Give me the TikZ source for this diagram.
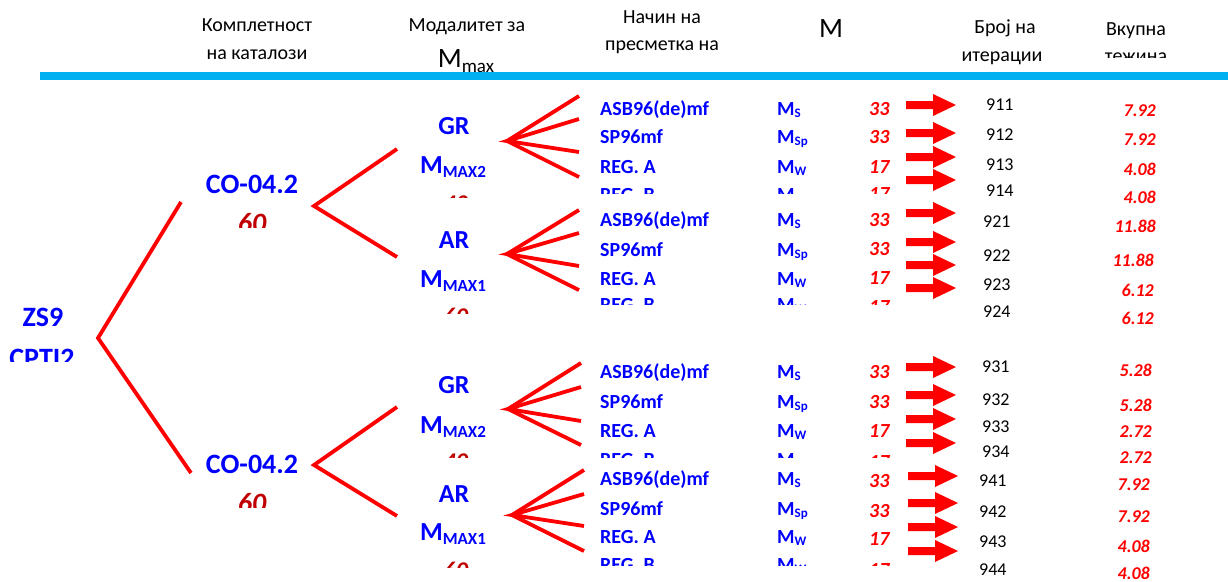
\documentclass[tikz,border=0pt]{standalone}
\usepackage{fontspec}
\setmainfont{Carlito}
\definecolor{skyb}{HTML}{00B0F0}
\definecolor{dred}{HTML}{C00000}
\definecolor{pblue}{HTML}{0000FF}
\definecolor{pred}{HTML}{FF0000}
\newcommand{\cutbelow}[2]{\begin{scope}\clip (0,0) rectangle (1228,#1);#2\end{scope}}
\newcommand{\msb}[1]{M\raisebox{-2.5pt}{\fontsize{13}{14}\selectfont #1}}
\newcommand{\mmax}[1]{M\raisebox{-4pt}{\fontsize{17}{18}\selectfont #1}}
\begin{document}
\begin{tikzpicture}[x=1pt,y=-1pt,
 every node/.style={inner sep=0pt, anchor=base},
 hdr/.style={font=\fontsize{20}{22}\selectfont},
 lbl/.style={font=\fontsize{20}{22}\selectfont\bfseries, text=pblue, anchor=base west},
 wnum/.style={font=\fontsize{20}{22}\selectfont\bfseries\itshape, text=pred, anchor=base west},
 inum/.style={font=\fontsize{18}{20}\selectfont, anchor=base west},
 tw/.style={font=\fontsize{18}{20}\selectfont\bfseries\itshape, text=pred, anchor=base east},
 big/.style={font=\fontsize{28}{30}\selectfont\bfseries, text=pblue},
 mid/.style={font=\fontsize{26}{28}\selectfont\bfseries, text=pblue},
 dnum/.style={font=\fontsize{28}{30}\selectfont\bfseries\itshape, text=dred},
 snum/.style={font=\fontsize{24}{26}\selectfont\bfseries\itshape, text=dred},
 branch/.style={pred, line width=3.8pt},
 blockarr/.pic={\fill[pred] (0,-4) -- (27,-4) -- (27,-11) -- (50,0) -- (27,11) -- (27,4) -- (0,4) -- cycle;}
]
\useasboundingbox (0,0) rectangle (1228,581);

% ---------- header ----------
\node[hdr] (h1a) at (257,31) {Комплетност};
\node[hdr] (h1b) at (257,59) {на каталози};
\node[hdr] (h2a) at (467,31) {Модалитет за};
\node[hdr, font=\fontsize{28}{30}\selectfont] (h2b) at (466,67) {M\raisebox{-5pt}{\fontsize{19}{20}\selectfont max}};
\node[hdr] (h3a) at (662,23) {Начин на};
\node[hdr] (h3b) at (662,50) {пресметка на};
\node[hdr, font=\fontsize{28}{30}\selectfont] (h4) at (831,37) {M};
\node[hdr] (h5a) at (1005,33) {Број на};
\node[hdr] (h5b) at (1002,61) {итерации};
\node[hdr] (h6a) at (1136,35) {Вкупна};
\cutbelow{57}{\node[hdr] (h6b) at (1136,62) {тежина};}
\coordinate (bl1) at (40,76);
\coordinate (bl2) at (1228,76);
\draw[skyb, line width=7.5pt] (bl1) -- (bl2);

% ---------- root and catalogues ----------
\node[big] (zs) at (43,326) {ZS9};
\cutbelow{361}{\node[big] (cp) at (42,367) {CPTI2};}
\node[big] (co1) at (252,193) {CO-04.2};
\cutbelow{227}{\node[dnum] (w1) at (252,232) {60};}
\node[big] (co2) at (252,473) {CO-04.2};
\cutbelow{507}{\node[dnum] (w2) at (252,512) {60};}

\coordinate (v0) at (98,338);
\coordinate (e01) at (181,202);
\coordinate (e02) at (191,473);
\draw[branch] (e01) -- (v0) -- (e02);

\coordinate (va) at (314,206);
\coordinate (ea1) at (397,149);
\coordinate (ea2) at (397,257);
\draw[branch] (ea1) -- (va) -- (ea2);
\coordinate (vb) at (314,465);
\coordinate (eb1) at (397,407);
\coordinate (eb2) at (397,516);
\draw[branch] (eb1) -- (vb) -- (eb2);

% ---------- Mmax modality ----------
\node[mid] (gr1) at (454,134) {GR};
\node[mid] (mx1) at (453,173) {\mmax{MAX2}};
\cutbelow{197}{\node[snum] (p1) at (456,211) {40};}
\node[mid] (ar1) at (454,248) {AR};
\node[mid] (mx2) at (453,287) {\mmax{MAX1}};
\cutbelow{313}{\node[snum] (p2) at (456,324) {60};}
\node[mid] (gr2) at (454,393) {GR};
\node[mid] (mx3) at (453,433) {\mmax{MAX2}};
\cutbelow{457}{\node[snum] (p3) at (456,469) {40};}
\node[mid] (ar2) at (454,502) {AR};
\node[mid] (mx4) at (453,540) {\mmax{MAX1}};
\cutbelow{567}{\node[snum] (p4) at (456,578) {60};}

% ---------- fans ----------
\coordinate (f1) at (507,141);
\coordinate (f11) at (579,96);  \coordinate (f12) at (579,119);
\coordinate (f13) at (579,152); \coordinate (f14) at (579,177);
\draw[branch] (f11) -- (f1) -- (f14);
\draw[branch] (f12) -- (f1) -- (f13);
\coordinate (f2) at (507,254);
\coordinate (f21) at (579,210); \coordinate (f22) at (579,233);
\coordinate (f23) at (579,266); \coordinate (f24) at (579,290);
\draw[branch] (f21) -- (f2) -- (f24);
\draw[branch] (f22) -- (f2) -- (f23);
\coordinate (f3) at (508,409);
\coordinate (f31) at (581,363); \coordinate (f32) at (581,387);
\coordinate (f33) at (581,421); \coordinate (f34) at (581,445);
\draw[branch] (f31) -- (f3) -- (f34);
\draw[branch] (f32) -- (f3) -- (f33);
\coordinate (f4) at (512,515);
\coordinate (f41) at (584,470); \coordinate (f42) at (584,494);
\coordinate (f43) at (584,526); \coordinate (f44) at (584,551);
\draw[branch] (f41) -- (f4) -- (f44);
\draw[branch] (f42) -- (f4) -- (f43);

% ---------- group 1 ----------
\node[lbl] (l11) at (600,115) {ASB96(de)mf};
\node[lbl] (l12) at (600,143) {SP96mf};
\node[lbl] (l13) at (600,173) {REG. A};
\node[lbl] (m11) at (777,115) {\msb{S}};
\node[lbl] (m12) at (777,143) {\msb{Sp}};
\node[lbl] (m13) at (777,173) {\msb{W}};
\node[wnum] (r11) at (869,115) {33};
\node[wnum] (r12) at (869,143) {33};
\node[wnum] (r13) at (869,173) {17};
\cutbelow{193}{
 \node[lbl] (l14) at (600,201) {REG. B};
 \node[lbl] (m14) at (777,201) {\msb{W}};
 \node[wnum] (r14) at (869,200) {17};}
\pic at (906,105) {blockarr};
\pic at (906,133) {blockarr};
\pic at (906,157) {blockarr};
\pic at (906,180) {blockarr};
\node[inum] (i11) at (986,110.7) {911};
\node[inum] (i12) at (986,140) {912};
\node[inum] (i13) at (986,170) {913};
\node[inum] (i14) at (986,196.7) {914};
\node[tw] (t11) at (1156,116.7) {7.92};
\node[tw] (t12) at (1156,145.7) {7.92};
\node[tw] (t13) at (1156,175.7) {4.08};
\node[tw] (t14) at (1156,203) {4.08};

% ---------- group 2 ----------
\node[lbl] (l21) at (600,226) {ASB96(de)mf};
\node[lbl] (l22) at (600,256) {SP96mf};
\node[lbl] (l23) at (600,285) {REG. A};
\node[lbl] (m21) at (777,226) {\msb{S}};
\node[lbl] (m22) at (777,256) {\msb{Sp}};
\node[lbl] (m23) at (777,285) {\msb{W}};
\node[wnum] (r21) at (869,226) {33};
\node[wnum] (r22) at (869,255) {33};
\node[wnum] (r23) at (869,284) {17};
\cutbelow{304}{
 \node[lbl] (l24) at (600,311) {REG. B};
 \node[lbl] (m24) at (777,311) {\msb{W}};
 \node[wnum] (r24) at (869,313) {17};}
\pic at (906,213) {blockarr};
\pic at (906,242) {blockarr};
\pic at (906,265) {blockarr};
\pic at (906,288) {blockarr};
\node[inum] (i21) at (983,227) {921};
\node[inum] (i22) at (983,261) {922};
\node[inum] (i23) at (983,290) {923};
\node[inum] (i24) at (983,317) {924};
\node[tw] (t21) at (1156,232.7) {11.88};
\node[tw] (t22) at (1154,266.7) {11.88};
\node[tw] (t23) at (1154,296.7) {6.12};
\node[tw] (t24) at (1154,324) {6.12};

% ---------- group 3 ----------
\node[lbl] (l31) at (600,378) {ASB96(de)mf};
\node[lbl] (l32) at (600,408) {SP96mf};
\node[lbl] (l33) at (600,437) {REG. A};
\node[lbl] (m31) at (777,378) {\msb{S}};
\node[lbl] (m32) at (777,408) {\msb{Sp}};
\node[lbl] (m33) at (777,437) {\msb{W}};
\node[wnum] (r31) at (869,378) {33};
\node[wnum] (r32) at (869,408) {33};
\node[wnum] (r33) at (869,437) {17};
\cutbelow{457}{
 \node[lbl] (l34) at (600,466) {REG. B};
 \node[lbl] (m34) at (777,466) {\msb{W}};
 \node[wnum] (r34) at (869,468) {17};}
\pic at (906,367) {blockarr};
\pic at (906,395) {blockarr};
\pic at (906,419) {blockarr};
\pic at (906,443) {blockarr};
\node[inum] (i31) at (982,372) {931};
\node[inum] (i32) at (982,405) {932};
\node[inum] (i33) at (982,432) {933};
\node[inum] (i34) at (982,457) {934};
\node[tw] (t31) at (1152,376.7) {5.28};
\node[tw] (t32) at (1152,411) {5.28};
\node[tw] (t33) at (1152,437.7) {2.72};
\node[tw] (t34) at (1152,463) {2.72};

% ---------- group 4 ----------
\node[lbl] (l41) at (600,485) {ASB96(de)mf};
\node[lbl] (l42) at (600,515) {SP96mf};
\node[lbl] (l43) at (600,543) {REG. A};
\node[lbl] (m41) at (777,485) {\msb{S}};
\node[lbl] (m42) at (777,515) {\msb{Sp}};
\node[lbl] (m43) at (777,543) {\msb{W}};
\node[wnum] (r41) at (869,487) {33};
\node[wnum] (r42) at (869,517) {33};
\node[wnum] (r43) at (869,545) {17};
\cutbelow{565}{
 \node[lbl] (l44) at (600,571) {REG. B};
 \node[lbl] (m44) at (777,571) {\msb{W}};
 \node[wnum] (r44) at (869,576) {17};}
\pic at (908,476) {blockarr};
\pic at (908,503) {blockarr};
\pic at (908,527) {blockarr};
\pic at (908,551) {blockarr};
\node[inum] (i41) at (979,486) {941};
\node[inum] (i42) at (979,517) {942};
\node[inum] (i43) at (979,547) {943};
\node[inum] (i44) at (979,575) {944};
\node[tw] (t41) at (1150,490) {7.92};
\node[tw] (t42) at (1150,522.7) {7.92};
\node[tw] (t43) at (1150,552.7) {4.08};
\node[tw] (t44) at (1150,579) {4.08};
\end{tikzpicture}
\end{document}
